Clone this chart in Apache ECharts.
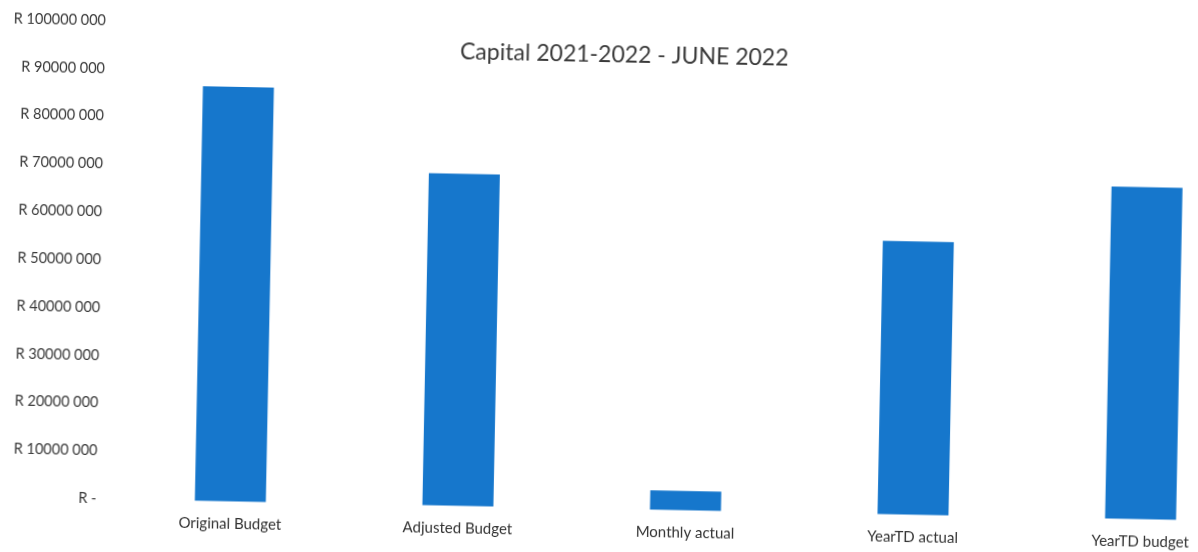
<!DOCTYPE html>
<html>
<head>
<meta charset="utf-8">
<script src="https://cdn.jsdelivr.net/npm/echarts@6/dist/echarts.min.js"></script>
<style>
  html, body { margin: 0; padding: 0; background: #ffffff; overflow: hidden; width: 1198px; height: 552px; }
  #chart { width: 1270px; height: 552px; transform: rotate(1.12deg); transform-origin: 599px 276px; }
</style>
</head>
<body>
<div id="chart"></div>
<script>
const categories = ['Original Budget', 'Adjusted Budget', 'Monthly actual', 'YearTD actual', 'YearTD budget'];
const values = [86600000, 69400000, 4000000, 57100000, 69400000];
const yTickLabels = ['R -', 'R 10000 000', 'R 20000 000', 'R 30000 000', 'R 40000 000', 'R 50000 000',
                     'R 60000 000', 'R 70000 000', 'R 80000 000', 'R 90000 000', 'R 100000 000'];
const titleText = 'Capital 2021-2022 - JUNE 2022';

const chart = echarts.init(document.getElementById('chart'), null, { renderer: 'canvas' });
chart.setOption({
  backgroundColor: '#ffffff',
  animation: false,
  title: {
    text: titleText,
    left: 615, top: 38, textAlign: 'center',
    textStyle: { fontFamily: 'Lato', fontSize: 23, fontWeight: 'normal', color: '#3a3a3a' }
  },
  grid: { left: 121, right: 11, top: 30, bottom: 43.5, containLabel: false },
  xAxis: {
    type: 'category',
    data: categories,
    axisLine: { show: false },
    axisTick: { show: false },
    axisLabel: { margin: 15, fontFamily: 'Lato', fontSize: 15, color: '#333333', interval: 0 }
  },
  yAxis: {
    type: 'value',
    min: 0, max: 100000000, interval: 10000000,
    splitLine: { show: false },
    axisLine: { show: false },
    axisTick: { show: false },
    axisLabel: {
      margin: 20, fontFamily: 'Lato', fontSize: 14.5, color: '#3a3a3a',
      formatter: function (v) { return yTickLabels[Math.round(v / 10000000)]; }
    }
  },
  series: [{
    type: 'bar',
    data: values,
    barWidth: 71,
    itemStyle: { color: '#1677cc' }
  }]
});
</script>
</body>
</html>
